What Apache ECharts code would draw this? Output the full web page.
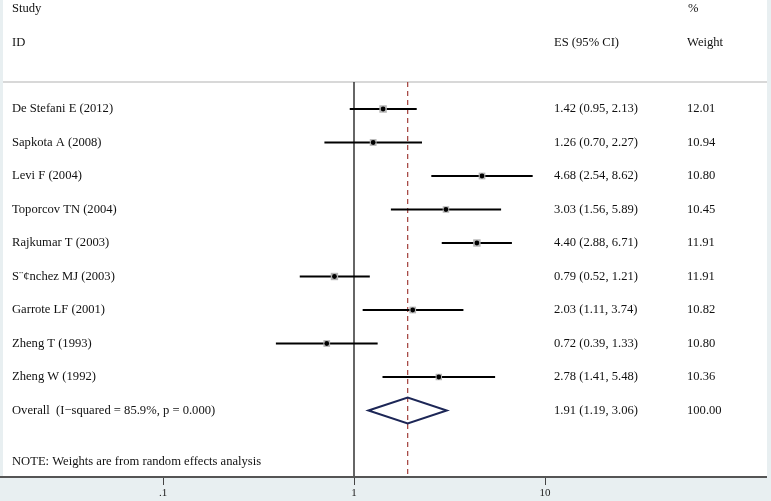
<!DOCTYPE html>
<html>
<head>
<meta charset="utf-8">
<style>
  html, body { margin: 0; padding: 0; background: #e8eff1; }
  #main { width: 771px; height: 501px; }
</style>
<script src="https://cdn.jsdelivr.net/npm/echarts@6/dist/echarts.min.js"></script>
</head>
<body>
<div id="main"></div>
<script>
// forest plot data
const studies = ['De Stefani E (2012)', 'Sapkota A (2008)', 'Levi F (2004)', 'Toporcov TN (2004)',
  'Rajkumar T (2003)', 'S¨¢nchez MJ (2003)', 'Garrote LF (2001)', 'Zheng T (1993)', 'Zheng W (1992)']
const es = [1.42, 1.26, 4.68, 3.03, 4.40, 0.79, 2.03, 0.72, 2.78]
const lower = [0.95, 0.70, 2.54, 1.56, 2.88, 0.52, 1.11, 0.39, 1.41]
const upper = [2.13, 2.27, 8.62, 5.89, 6.71, 1.21, 3.74, 1.33, 5.48]
const weights = [12.01, 10.94, 10.80, 10.45, 11.91, 11.91, 10.82, 10.80, 10.36]
const overallLabel = 'Overall  (I\u2212squared = 85.9%, p = 0.000)'
const overallEs = [1.91, 1.19, 3.06]
const overallWeight = 100.00
const refLines = [1, overallEs[0]]
const xTicks = [0.1, 1, 10]
const xTickLabels = ['.1', '1', '10']

const FONT = 'Liberation Serif'
const fmt = v => v.toFixed(2)

const rows = studies.map((s, i) => [es[i], i, lower[i], upper[i], weights[i]])

const myChart = echarts.init(document.getElementById('main'))

function txt(x, y, text) {
  return {
    type: 'text',
    style: { x: x, y: y, text: text, fill: '#111', font: '12.6px "' + FONT + '"', verticalAlign: 'middle' }
  }
}

myChart.setOption({
  animation: false,
  grid: { left: 163, right: 226, top: 82, bottom: 24 },
  xAxis: {
    type: 'log',
    logBase: 10,
    min: 0.1,
    max: 10,
    axisLine: { show: true, onZero: false, lineStyle: { color: '#555', width: 2 } },
    axisTick: { show: true, inside: false, length: 8, lineStyle: { color: '#444', width: 1 } },
    splitLine: { show: false },
    axisLabel: {
      margin: 11,
      fontFamily: FONT,
      fontSize: 11,
      color: '#222',
      formatter: function (v) {
        const i = xTicks.findIndex(t => Math.abs(Math.log10(t) - Math.log10(v)) < 1e-6)
        return i >= 0 ? xTickLabels[i] : ''
      }
    }
  },
  yAxis: {
    type: 'value',
    inverse: true,
    min: -0.806,
    max: 10.985,
    show: false
  },
  graphic: [
    { type: 'rect', shape: { x: 3, y: 0, width: 764, height: 477 }, style: { fill: '#fff' }, z: -10 },
    { type: 'rect', shape: { x: 3, y: 81, width: 764, height: 2 }, style: { fill: '#d8d8d8' } },
    { type: 'line', shape: { x1: 0, y1: 477, x2: 767, y2: 477 }, style: { stroke: '#555', lineWidth: 2 }, z: 100 },
    txt(12, 9, 'Study'),
    txt(12, 43, 'ID'),
    txt(554, 43, 'ES (95% CI)'),
    txt(688, 9, '%'),
    txt(687, 43, 'Weight'),
    txt(12, 462, 'NOTE: Weights are from random effects analysis')
  ],
  series: [{
    // null line and overall estimate line
    type: 'custom',
    data: refLines.map((v, k) => [v, k]),
    z: 1,
    renderItem: function (params, api) {
      const x = api.coord([api.value(0), 0])[0]
      const top = params.coordSys.y
      const bottom = params.coordSys.y + params.coordSys.height
      const dashed = api.value(1) === 1
      return {
        type: 'line',
        shape: { x1: x, y1: top, x2: x, y2: bottom },
        style: dashed
          ? { stroke: '#a23f3a', lineWidth: 1.2, lineDash: [5, 4] }
          : { stroke: '#333', lineWidth: 1.5 }
      }
    }
  }, {
    type: 'custom',
    data: rows,
    z: 3,
    renderItem: function (params, api) {
      const i = api.value(1)
      const c = api.coord([api.value(0), i])
      const l = api.coord([api.value(2), i])
      const u = api.coord([api.value(3), i])
      const s = api.value(4) * 0.62
      return {
        type: 'group',
        children: [
          { type: 'line', shape: { x1: l[0], y1: c[1], x2: u[0], y2: c[1] }, style: { stroke: '#000', lineWidth: 2 } },
          { type: 'rect', shape: { x: c[0] - s / 2, y: c[1] - s / 2, width: s, height: s }, style: { fill: '#b4b4b4' } },
          { type: 'circle', shape: { cx: c[0], cy: c[1], r: 2.4 }, style: { fill: '#000' } },
          txt(12, c[1], studies[i]),
          txt(554, c[1], fmt(es[i]) + ' (' + fmt(lower[i]) + ', ' + fmt(upper[i]) + ')'),
          txt(687, c[1], fmt(weights[i]))
        ]
      }
    }
  }, {
    type: 'custom',
    data: [[overallEs[0], studies.length, overallEs[1], overallEs[2], overallWeight]],
    z: 3,
    renderItem: function (params, api) {
      const i = api.value(1)
      const c = api.coord([api.value(0), i])
      const l = api.coord([api.value(2), i])
      const u = api.coord([api.value(3), i])
      const h = 13
      return {
        type: 'group',
        children: [
          {
            type: 'polygon',
            shape: { points: [[l[0], c[1]], [c[0], c[1] - h], [u[0], c[1]], [c[0], c[1] + h]] },
            style: { fill: 'none', stroke: '#1c2656', lineWidth: 2 }
          },
          txt(12, c[1], overallLabel),
          txt(554, c[1], fmt(api.value(0)) + ' (' + fmt(api.value(2)) + ', ' + fmt(api.value(3)) + ')'),
          txt(687, c[1], fmt(api.value(4)))
        ]
      }
    }
  }]
})
</script>
</body>
</html>
